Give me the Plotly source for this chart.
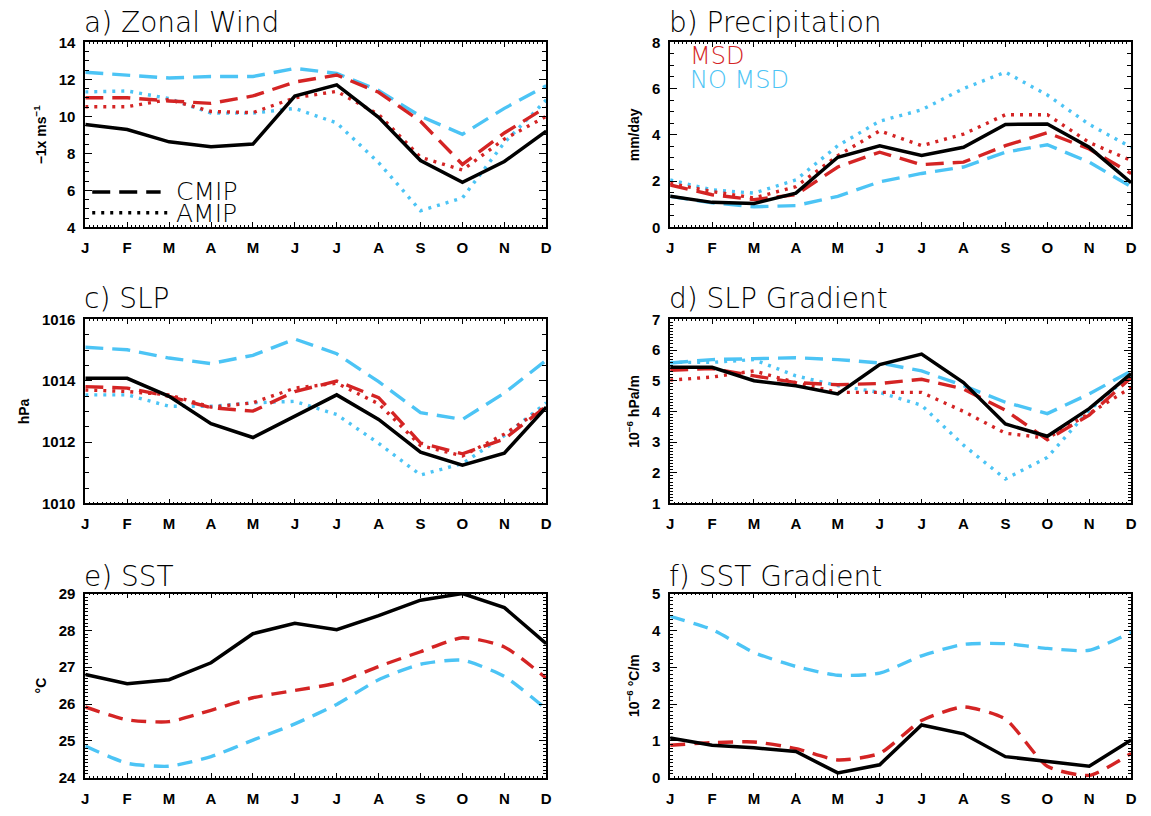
import plotly.graph_objects as go

W, H = 1151, 816

months = ["J", "F", "M", "A", "M", "J", "J", "A", "S", "O", "N", "D"]
xi = list(range(12))

# a) Zonal wind (-1 x m/s)
wind_obs = [9.56, 9.29, 8.62, 8.35, 8.5, 11.09, 11.7, 9.95, 7.61, 6.43, 7.56, 9.2]
wind_cmip_msd = [11.0, 11.0, 10.83, 10.7, 11.1, 11.85, 12.23, 11.3, 9.73, 7.4, 9.1, 10.5]
wind_cmip_nomsd = [12.38, 12.23, 12.07, 12.15, 12.15, 12.59, 12.32, 11.4, 10.0, 9.03, 10.43, 11.65]
wind_amip_msd = [10.52, 10.52, 10.91, 10.26, 10.2, 11.0, 11.35, 10.1, 7.79, 7.1, 8.77, 10.0]
wind_amip_nomsd = [11.32, 11.37, 10.96, 10.17, 10.17, 10.43, 9.64, 7.5, 4.9, 5.59, 8.58, 10.88]

# b) Precipitation (mm/day)
pr_obs = [1.34, 1.08, 1.03, 1.48, 3.03, 3.53, 3.11, 3.46, 4.45, 4.47, 3.46, 1.93]
pr_cmip_msd = [1.83, 1.41, 1.2, 1.41, 2.61, 3.25, 2.71, 2.82, 3.53, 4.09, 3.39, 2.33]
pr_cmip_nomsd = [1.34, 1.06, 0.89, 0.94, 1.34, 1.97, 2.33, 2.61, 3.25, 3.57, 2.82, 1.76]
pr_amip_msd = [1.9, 1.55, 1.27, 1.76, 3.1, 4.17, 3.53, 4.03, 4.87, 4.87, 3.67, 2.89]
pr_amip_nomsd = [2.05, 1.62, 1.48, 2.05, 3.53, 4.59, 5.08, 6.0, 6.71, 5.72, 4.45, 3.46]

# c) SLP (hPa)
slp_obs = [1014.08, 1014.08, 1013.49, 1012.6, 1012.15, 1012.85, 1013.54, 1012.74, 1011.67, 1011.25, 1011.64, 1013.14]
slp_cmip_msd = [1013.81, 1013.76, 1013.49, 1013.12, 1013.01, 1013.65, 1013.99, 1013.45, 1011.97, 1011.62, 1012.1, 1013.17]
slp_cmip_nomsd = [1015.09, 1015.01, 1014.74, 1014.56, 1014.83, 1015.36, 1014.88, 1013.97, 1012.96, 1012.74, 1013.6, 1014.67]
slp_amip_msd = [1013.7, 1013.65, 1013.54, 1013.14, 1013.28, 1013.76, 1013.92, 1013.25, 1011.89, 1011.55, 1012.26, 1013.17]
slp_amip_nomsd = [1013.54, 1013.54, 1013.17, 1013.17, 1013.28, 1013.33, 1012.9, 1011.96, 1010.93, 1011.3, 1012.21, 1013.28]

# d) SLP gradient (1e-6 hPa/m)
grd_obs = [5.44, 5.44, 5.0, 4.84, 4.57, 5.53, 5.87, 4.94, 3.59, 3.19, 4.09, 5.23]
grd_cmip_msd = [5.34, 5.4, 5.16, 4.94, 4.87, 4.91, 5.05, 4.73, 4.04, 3.08, 3.88, 5.1]
grd_cmip_nomsd = [5.58, 5.69, 5.72, 5.75, 5.69, 5.58, 5.32, 4.84, 4.3, 3.93, 4.57, 5.32]
grd_amip_msd = [5.02, 5.12, 5.32, 4.94, 4.62, 4.62, 4.62, 4.0, 3.29, 3.13, 3.93, 4.78]
grd_amip_nomsd = [5.6, 5.6, 5.69, 5.16, 4.84, 4.62, 4.2, 2.9, 1.8, 2.5, 4.04, 5.21]

# e) SST (degC)
sst_obs = [26.8, 26.55, 26.66, 27.12, 27.91, 28.19, 28.02, 28.4, 28.82, 29.0, 28.62, 27.64]
sst_msd = [25.92, 25.57, 25.52, 25.83, 26.17, 26.37, 26.57, 27.02, 27.42, 27.8, 27.55, 26.7]
sst_nomsd = [24.86, 24.39, 24.31, 24.57, 25.02, 25.46, 25.99, 26.66, 27.08, 27.19, 26.75, 25.86]

# f) SST gradient (1e-6 degC/m)
sstg_obs = [1.08, 0.88, 0.81, 0.71, 0.13, 0.35, 1.43, 1.19, 0.57, 0.44, 0.31, 1.02]
sstg_msd = [0.88, 0.95, 0.97, 0.79, 0.48, 0.66, 1.55, 1.92, 1.59, 0.31, 0.06, 0.66]
sstg_nomsd = [4.38, 4.02, 3.4, 3.02, 2.78, 2.84, 3.31, 3.62, 3.64, 3.51, 3.46, 3.95]

RED = "#d42424"
CYAN = "#4cc4f5"
BLACK = "#000000"
DASH = "18px,9px"
DASH2 = "15px,9px"
DOT = "3px,6px"
LW = 3.4

TICKFONT = dict(family="Liberation Sans, Arial, sans-serif", size=15, color="black", weight="bold")
TITLEFONT = dict(family="DejaVu Sans, sans-serif", size=28, color="black", weight=200)


def px_x(x):
    return x / W


def px_y(y):
    return 1 - y / H


cols = [(82, 547), (672, 1137)]
rows = [(34, 223), (317, 505), (597, 785)]

panels = [
    dict(title="a) Zonal Wind", ytitle="−1x ms<sup>−1</sup>", rng=[4, 14], dtick=2, minor=0.5,
         series=[(wind_cmip_nomsd, CYAN, DASH, "linear"), (wind_amip_nomsd, CYAN, DOT, "linear"),
                 (wind_cmip_msd, RED, DASH, "linear"), (wind_amip_msd, RED, DOT, "linear"),
                 (wind_obs, BLACK, "solid", "linear")]),
    dict(title="b) Precipitation", ytitle="mm/day", rng=[0, 8], dtick=2, minor=0.5,
         series=[(pr_cmip_nomsd, CYAN, DASH, "linear"), (pr_amip_nomsd, CYAN, DOT, "linear"),
                 (pr_cmip_msd, RED, DASH, "linear"), (pr_amip_msd, RED, DOT, "linear"),
                 (pr_obs, BLACK, "solid", "linear")]),
    dict(title="c) SLP", ytitle="hPa", rng=[1010, 1016], dtick=2, minor=0.5,
         series=[(slp_cmip_nomsd, CYAN, DASH, "linear"), (slp_amip_nomsd, CYAN, DOT, "linear"),
                 (slp_cmip_msd, RED, DASH, "linear"), (slp_amip_msd, RED, DOT, "linear"),
                 (slp_obs, BLACK, "solid", "linear")]),
    dict(title="d) SLP Gradient", ytitle="10<sup>−6</sup> hPa/m", rng=[1, 7], dtick=1, minor=0.1,
         series=[(grd_cmip_nomsd, CYAN, DASH, "linear"), (grd_amip_nomsd, CYAN, DOT, "linear"),
                 (grd_cmip_msd, RED, DASH, "linear"), (grd_amip_msd, RED, DOT, "linear"),
                 (grd_obs, BLACK, "solid", "linear")]),
    dict(title="e) SST", ytitle="°C", rng=[24, 29], dtick=1, minor=0.1,
         series=[(sst_nomsd, CYAN, DASH2, "spline"), (sst_msd, RED, DASH2, "spline"),
                 (sst_obs, BLACK, "solid", "linear")]),
    dict(title="f) SST Gradient", ytitle="10<sup>−6</sup> °C/m", rng=[0, 5], dtick=1, minor=0.1,
         series=[(sstg_nomsd, CYAN, DASH2, "spline"), (sstg_msd, RED, DASH2, "spline"),
                 (sstg_obs, BLACK, "solid", "linear")]),
]

fig = go.Figure()
layout = dict(
    width=W, height=H,
    margin=dict(l=0, r=0, t=0, b=0),
    paper_bgcolor="white", plot_bgcolor="white",
    showlegend=False,
    annotations=[], shapes=[],
)

title_bottom = [33, 315, 598]

for i, p in enumerate(panels):
    r, c = divmod(i, 2)
    n = "" if i == 0 else str(i + 1)
    x0, x1 = cols[c]
    y0, y1 = rows[r]
    xa = "xaxis" + n
    ya = "yaxis" + n
    layout[xa] = dict(
        domain=[px_x(x0), px_x(x1)], anchor="y" + n, range=[0, 11],
        tickmode="array", tickvals=xi, ticktext=months,
        ticks="inside", ticklen=5, tickwidth=1.2, tickcolor="black",
        minor=dict(dtick=0.1, ticks="inside", ticklen=2, tickwidth=1, tickcolor="black"),
        showline=True, linewidth=1.8, linecolor="black", mirror="allticks",
        showgrid=False, zeroline=False, tickfont=TICKFONT, ticklabelstandoff=6,
        fixedrange=True,
    )
    layout[ya] = dict(
        domain=[px_y(y1), px_y(y0)], anchor="x" + n, range=p["rng"],
        tickmode="linear", tick0=p["rng"][0], dtick=p["dtick"],
        ticks="inside", ticklen=7, tickwidth=1.2, tickcolor="black",
        minor=dict(dtick=p["minor"], ticks="inside", ticklen=4 if p["minor"] >= 0.5 else 3,
                   tickwidth=1, tickcolor="black"),
        showline=True, linewidth=1.8, linecolor="black", mirror="allticks",
        showgrid=False, zeroline=False, tickfont=TICKFONT, ticklabelstandoff=5,
        title=dict(text=p["ytitle"], font=dict(family="Liberation Sans, Arial, sans-serif",
                                                size=14, color="black", weight="bold"), standoff=9),
        fixedrange=True,
    )
    for vals, color, dash, shape in p["series"]:
        fig.add_trace(go.Scatter(
            x=xi, y=vals, mode="lines", xaxis="x" + n, yaxis="y" + n,
            line=dict(color=color, dash=dash, width=LW if color != BLACK else 3.5,
                      shape=shape, smoothing=0.6 if shape == "spline" else None),
            hoverinfo="skip",
        ))
    # panel title
    layout["annotations"].append(dict(
        text=p["title"], xref="paper", yref="paper", x=px_x(x0 - 3), y=px_y(title_bottom[r]),
        xanchor="left", yanchor="bottom", showarrow=False, font=TITLEFONT,
    ))

# legend in panel a (line styles)
layout["shapes"].append(dict(type="line", xref="paper", yref="paper",
                             x0=px_x(89), x1=px_x(158), y0=px_y(187), y1=px_y(187),
                             line=dict(color="black", width=3.5, dash="18px,9px")))
layout["shapes"].append(dict(type="line", xref="paper", yref="paper",
                             x0=px_x(89), x1=px_x(166), y0=px_y(208), y1=px_y(208),
                             line=dict(color="black", width=3.5, dash="3px,6px")))
LEGFONT = dict(family="DejaVu Sans, sans-serif", size=25, color="black", weight=200)
layout["annotations"].append(dict(text="CMIP", xref="paper", yref="paper", x=px_x(172), y=px_y(186),
                                  xanchor="left", yanchor="middle", showarrow=False, font=LEGFONT,
                                  borderpad=0))
layout["annotations"].append(dict(text="AMIP", xref="paper", yref="paper", x=px_x(172), y=px_y(209),
                                  xanchor="left", yanchor="middle", showarrow=False, font=LEGFONT,
                                  borderpad=0))
# legend in panel b (colours)
layout["annotations"].append(dict(text="MSD", xref="paper", yref="paper", x=px_x(690), y=px_y(48),
                                  xanchor="left", yanchor="middle", showarrow=False,
                                  font=dict(family="DejaVu Sans, sans-serif", size=24, color=RED, weight=200)))
layout["annotations"].append(dict(text="NO MSD", xref="paper", yref="paper", x=px_x(690), y=px_y(73),
                                  xanchor="left", yanchor="middle", showarrow=False,
                                  font=dict(family="DejaVu Sans, sans-serif", size=24, color=CYAN, weight=200)))

fig.update_layout(**layout)
fig.write_html("out.html")
